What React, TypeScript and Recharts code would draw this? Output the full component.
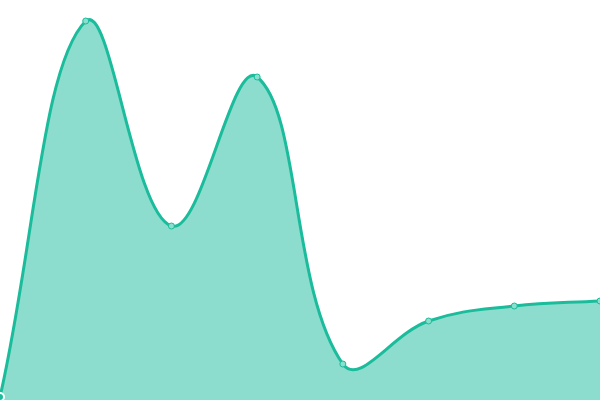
import { AreaChart, Area, XAxis, YAxis } from "recharts";

const labels = ["A", "B", "C", "D", "E", "F", "G", "H"];
const values = [3, 379, 174, 323, 36, 79, 94, 99];

const data = labels.map((name, i) => ({ name, value: values[i] }));

const W = 600;
const H = 400;
const TENSION = 0.4;

// tension spline (control points from neighbour distances), capped to the plot area
class TensionSpline {
  _context: any;
  _line = NaN;
  _pts: number[][] = [];
  constructor(context: any) {
    this._context = context;
  }
  areaStart() { this._line = 0; }
  areaEnd() { this._line = NaN; }
  lineStart() { this._pts = []; }
  point(x: number, y: number) { this._pts.push([+x, +y]); }
  lineEnd() {
    const p = this._pts;
    const n = p.length;
    const ctx = this._context;
    const clampX = (v: number) => Math.max(0, Math.min(W, v));
    const clampY = (v: number) => Math.max(0, Math.min(H, v));
    if (n) {
      if (this._line) ctx.lineTo(p[0][0], p[0][1]);
      else ctx.moveTo(p[0][0], p[0][1]);
      const prevCp: number[][] = [];
      const nextCp: number[][] = [];
      for (let i = 0; i < n; i++) {
        const cur = p[i];
        const prev = p[i - 1] || cur;
        const next = p[i + 1] || cur;
        const d01 = Math.hypot(cur[0] - prev[0], cur[1] - prev[1]);
        const d12 = Math.hypot(next[0] - cur[0], next[1] - cur[1]);
        let s01 = d01 / (d01 + d12);
        let s12 = d12 / (d01 + d12);
        if (isNaN(s01)) s01 = 0;
        if (isNaN(s12)) s12 = 0;
        const fa = TENSION * s01;
        const fb = TENSION * s12;
        prevCp.push([clampX(cur[0] - fa * (next[0] - prev[0])), clampY(cur[1] - fa * (next[1] - prev[1]))]);
        nextCp.push([clampX(cur[0] + fb * (next[0] - prev[0])), clampY(cur[1] + fb * (next[1] - prev[1]))]);
      }
      for (let i = 1; i < n; i++) {
        ctx.bezierCurveTo(nextCp[i - 1][0], nextCp[i - 1][1], prevCp[i][0], prevCp[i][1], p[i][0], p[i][1]);
      }
    }
    if (this._line || (this._line !== 0 && n === 1)) ctx.closePath();
    this._line = 1 - this._line;
  }
}

const curveTension = (context: any) => new TensionSpline(context);

export default function App() {
  return (
    <div style={{ position: "fixed", top: 0, left: 0, width: W, height: H, background: "#fff" }}>
      <AreaChart width={W} height={H} data={data} margin={{ top: 0, right: 0, bottom: 0, left: 0 }}>
        <XAxis dataKey="name" hide padding={{ left: 0, right: 0 }} />
        <YAxis hide domain={[0, 400]} />
        <Area
          type={curveTension as any}
          dataKey="value"
          stroke="#1abc9c"
          strokeWidth={3}
          fill="#1abc9c"
          fillOpacity={0.5}
          dot={{ r: 3, fill: "#8ae0cf", stroke: "#1abc9c", strokeWidth: 1, fillOpacity: 1 }}
          isAnimationActive={false}
        />
      </AreaChart>
    </div>
  );
}
